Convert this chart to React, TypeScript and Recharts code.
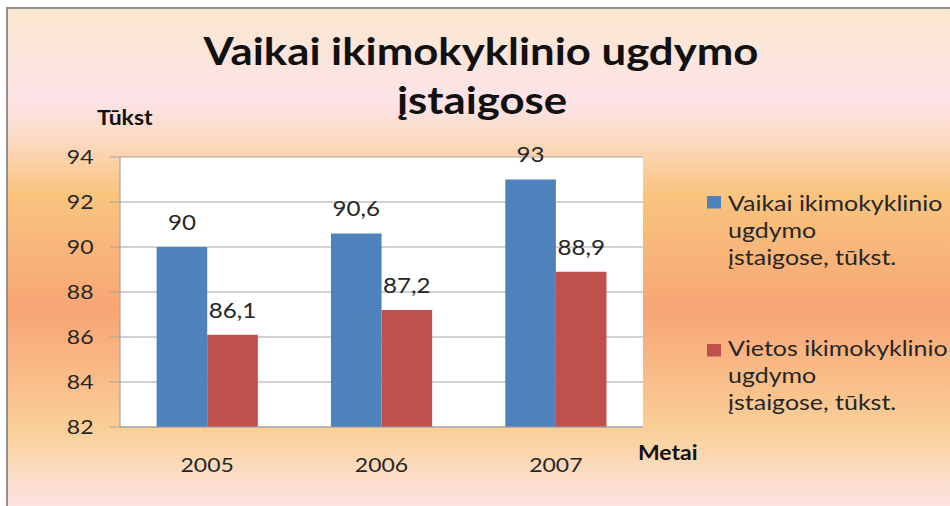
import React from 'react';
import { BarChart, Bar, XAxis, YAxis, CartesianGrid, LabelList } from 'recharts';

const years = ['2005', '2006', '2007'];
const childrenValues = [90, 90.6, 93];
const placesValues = [86.1, 87.2, 88.9];
const seriesNames = [
  'Vaikai ikimokyklinio ugdymo įstaigose, tūkst.',
  'Vietos ikimokyklinio ugdymo įstaigose, tūkst.',
];
const legendLines = [
  ['Vaikai ikimokyklinio', 'ugdymo', 'įstaigose, tūkst.'],
  ['Vietos ikimokyklinio', 'ugdymo', 'įstaigose, tūkst.'],
];
const seriesColors = ['#4f81bd', '#c0504d'];
const yTicks = [82, 84, 86, 88, 90, 92, 94];
const titleLines = ['Vaikai ikimokyklinio ugdymo', 'įstaigose'];
const yAxisTitle = 'Tūkst';
const xAxisTitle = 'Metai';

const data = years.map((y, i) => ({ year: y, vaikai: childrenValues[i], vietos: placesValues[i] }));

const W = 826; // pre-stretch width
const S = 950 / W;
const FONT = 'Lato, "Open Sans", sans-serif';
const TXT = '#262626';

const fmt = (v: any) => String(v).replace('.', ',');

export default function App() {
  return (
    <div style={{ position: 'absolute', left: 0, top: 0, width: 950, height: 506, overflow: 'hidden', fontFamily: FONT }}>
      <div
        style={{
          position: 'absolute',
          left: 6,
          top: 7,
          width: 960,
          height: 510,
          borderLeft: '2px solid #8e8e8e',
          borderTop: '2px solid #8e8e8e',
          background:
            'linear-gradient(to bottom, #fbe7cf 0px, #fce5dc 50px, #fde3e7 90px, #fcdcc9 125px, #f9c47e 185px, #f8b67a 240px, #f7a575 300px, #f9bd88 370px, #fad19a 425px, #fbdcc4 465px, #fde3e4 499px)',
        }}
      />
      <div style={{ position: 'absolute', left: 0, top: 0, width: W, height: 506, transform: `scaleX(${S})`, transformOrigin: '0 0' }}>
        <BarChart
          width={W}
          height={506}
          data={data}
          margin={{ top: 157, right: W - 643 / S, bottom: 39, left: 0 }}
          barCategoryGap="21%"
          barGap={0}
        >
          <CartesianGrid vertical={false} stroke="#a3a3a3" fill="#ffffff" fillOpacity={1} />
          <XAxis
            dataKey="year"
            height={40}
            tickLine={false}
            tickSize={0}
            tickMargin={31}
            axisLine={{ stroke: '#a3a3a3' }}
            tick={{ fill: TXT, fontSize: 20, fontFamily: FONT }}
          />
          <YAxis
            width={120 / S}
            domain={[82, 94]}
            ticks={yTicks}
            interval={0}
            tickSize={9}
            tickMargin={14}
            axisLine={{ stroke: '#a3a3a3' }}
            tickLine={{ stroke: '#a3a3a3' }}
            tick={{ fill: TXT, fontSize: 20, fontFamily: FONT }}
          />
          <Bar dataKey="vaikai" name={seriesNames[0]} fill={seriesColors[0]} isAnimationActive={false}>
            <LabelList dataKey="vaikai" position="top" offset={17} formatter={fmt} fill={TXT} fontSize={21} fontFamily={FONT} />
          </Bar>
          <Bar dataKey="vietos" name={seriesNames[1]} fill={seriesColors[1]} isAnimationActive={false}>
            <LabelList dataKey="vietos" position="top" offset={17} formatter={fmt} fill={TXT} fontSize={21} fontFamily={FONT} />
          </Bar>
        </BarChart>
        <svg width={W} height={506} style={{ position: 'absolute', left: 0, top: 0, pointerEvents: 'none' }}>
          <text x={481 / S} y={65} textAnchor="middle" fontFamily={FONT} fontWeight={700} fontSize={38} fill="#111">
            {titleLines[0]}
          </text>
          <text x={482 / S} y={114} textAnchor="middle" fontFamily={FONT} fontWeight={700} fontSize={38} fill="#111">
            {titleLines[1]}
          </text>
          <text x={97 / S} y={125} fontFamily={FONT} fontWeight={700} fontSize={20} fill="#111">
            {yAxisTitle}
          </text>
          <text x={638 / S} y={460} fontFamily={FONT} fontWeight={700} fontSize={20} fill="#111">
            {xAxisTitle}
          </text>
          {legendLines.map((lines, si) => {
            const top = si === 0 ? 196 : 344;
            const firstCenter = si === 0 ? 203 : 348;
            return (
              <g key={si}>
                <rect x={707 / S} y={top} width={14 / S} height={12.5} fill={seriesColors[si]} />
                {lines.map((ln, li) => (
                  <text key={li} x={728 / S} y={firstCenter + li * 27} dy="0.35em" fontFamily={FONT} fontSize={21.7} fill={TXT}>
                    {ln}
                  </text>
                ))}
              </g>
            );
          })}
        </svg>
      </div>
    </div>
  );
}
